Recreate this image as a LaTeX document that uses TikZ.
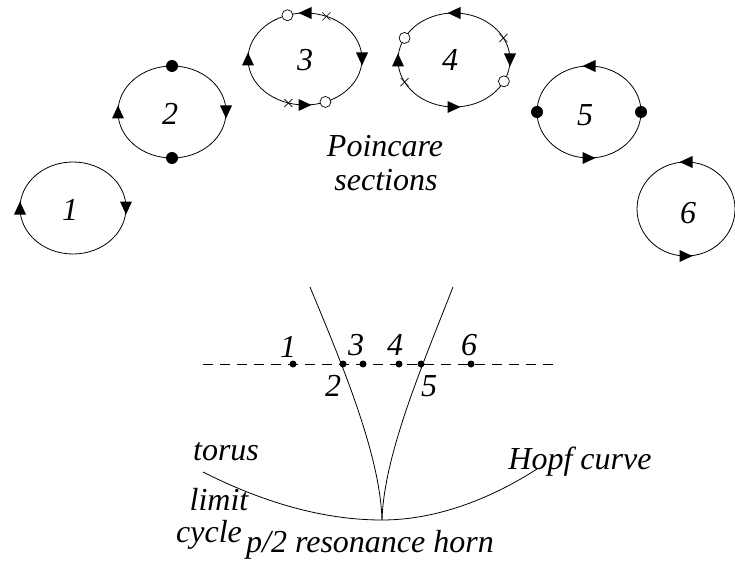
\documentclass[tikz,border=0pt]{standalone}
\usepackage{fontspec}
\setmainfont{Liberation Serif}
\usetikzlibrary{calc}
\begin{document}
\begin{tikzpicture}[x=1pt,y=1pt,line width=0.8pt,
  lab/.style={font=\itshape\fontsize{32}{38}\selectfont, inner sep=0pt},
  tri/.pic={\fill (6.5,0) -- (-6.5,6) -- (-6.5,-6) -- cycle;},
  crs/.pic={\draw[line width=0.6pt] (-4,-4) -- (4,4) (-4,4) -- (4,-4);},
  opn/.style={draw, fill=white, line width=0.7pt},
  dot/.style={fill=black}]
\useasboundingbox (0,0) rectangle (735,566);
% ellipse centres
\coordinate (e1) at (73,358);
\coordinate (e2) at (172,454);
\coordinate (e3) at (305,507);
\coordinate (e4) at (454,506);
\coordinate (e5) at (589,454);
\coordinate (e6) at (686,357);
% ellipse 1
\draw (e1) ellipse [x radius=53pt, y radius=46pt];
\pic[rotate=90] at ($(e1)+(180:53pt and 46pt)$) {tri};
\pic[rotate=-90] at ($(e1)+(0:53pt and 46pt)$) {tri};
\node[lab] (n1) at (70,356) {1};
% ellipse 2
\draw (e2) ellipse [x radius=54pt, y radius=46pt];
\pic[rotate=90] at ($(e2)+(180:54pt and 46pt)$) {tri};
\pic[rotate=-90] at ($(e2)+(0:54pt and 46pt)$) {tri};
\fill ($(e2)+(90:54pt and 46pt)$) circle (6pt);
\fill ($(e2)+(-90:54pt and 46pt)$) circle (6pt);
\node[lab] (n2) at (170,452) {2};
% ellipse 3
\draw (e3) ellipse [x radius=57pt, y radius=46pt];
\pic[rotate=90] at ($(e3)+(180:57pt and 46pt)$) {tri};
\pic[rotate=-90] at ($(e3)+(0:57pt and 46pt)$) {tri};
\pic[rotate=180] at ($(e3)+(90:57pt and 46pt)$) {tri};
\pic at ($(e3)+(-90:57pt and 46pt)$) {tri};
\draw[opn] ($(e3)+(108:57pt and 46pt)$) circle (5.5pt);
\draw[opn] ($(e3)+(-69:57pt and 46pt)$) circle (5.5pt);
\pic at ($(e3)+(68:57pt and 46pt)$) {crs};
\pic at ($(e3)+(-107:57pt and 46pt)$) {crs};
\node[lab] (n3) at (305,506) {3};
% ellipse 4
\draw (e4) ellipse [x radius=56pt, y radius=47pt];
\pic[rotate=90] at ($(e4)+(180:56pt and 47pt)$) {tri};
\pic[rotate=-90] at ($(e4)+(0:56pt and 47pt)$) {tri};
\pic[rotate=180] at ($(e4)+(90:56pt and 47pt)$) {tri};
\pic at ($(e4)+(-90:56pt and 47pt)$) {tri};
\draw[opn] ($(e4)+(152:56pt and 47pt)$) circle (5.5pt);
\draw[opn] ($(e4)+(-27:56pt and 47pt)$) circle (5.5pt);
\pic at ($(e4)+(28:56pt and 47pt)$) {crs};
\pic at ($(e4)+(-152:56pt and 47pt)$) {crs};
\node[lab] (n4) at (450,506) {4};
% ellipse 5
\draw (e5) ellipse [x radius=52pt, y radius=46pt];
\pic[rotate=180] at ($(e5)+(90:52pt and 46pt)$) {tri};
\pic at ($(e5)+(-90:52pt and 46pt)$) {tri};
\fill ($(e5)+(180:52pt and 46pt)$) circle (6pt);
\fill ($(e5)+(0:52pt and 46pt)$) circle (6pt);
\node[lab] (n5) at (585,451) {5};
% ellipse 6
\draw (e6) ellipse [x radius=49pt, y radius=47pt];
\pic[rotate=180] at ($(e6)+(90:49pt and 47pt)$) {tri};
\pic at ($(e6)+(-90:49pt and 47pt)$) {tri};
\node[lab] (n6) at (688,353) {6};
% Poincare sections
\node[lab] (ps1) at (385,420) {Poincare};
\node[lab] (ps2) at (386,386) {sections};
% horn
\coordinate (cusp) at (382,46);
\coordinate (lt) at (310,279);
\coordinate (rt) at (453,279);
\draw (lt) .. controls (345,195) and (380,110) .. (cusp);
\draw (rt) .. controls (420,195) and (384,110) .. (cusp);
% arc
\coordinate (al) at (203,94);
\coordinate (ar) at (537,97);
\draw (al) .. controls (280,55) and (340,46) .. (cusp);
\draw (cusp) .. controls (440,46) and (495,70) .. (ar);
% dashed line
\coordinate (dl) at (203,202);
\coordinate (dr) at (560,202);
\draw[dash pattern=on 10pt off 7pt] (dl) -- (dr);
\foreach \xx in {293,343,363,399,421,471} \fill (\xx,202) circle (3.5pt);
\node[lab] (h1) at (288,219) {1};
\node[lab] (h3) at (356,221) {3};
\node[lab] (h4) at (395,221) {4};
\node[lab] (h6) at (469,221) {6};
\node[lab] (h2) at (333,180) {2};
\node[lab] (h5) at (429,180) {5};
% labels
\node[lab] (torus) at (226,114) {torus};
\node[lab] (hopf) at (580,104) {Hopf curve};
\node[lab] (limit) at (219,66) {limit};
\node[lab] (cycle) at (209,31) {cycle};
\node[lab] (horn) at (370,21) {p/2 resonance horn};
\end{tikzpicture}
\end{document}
